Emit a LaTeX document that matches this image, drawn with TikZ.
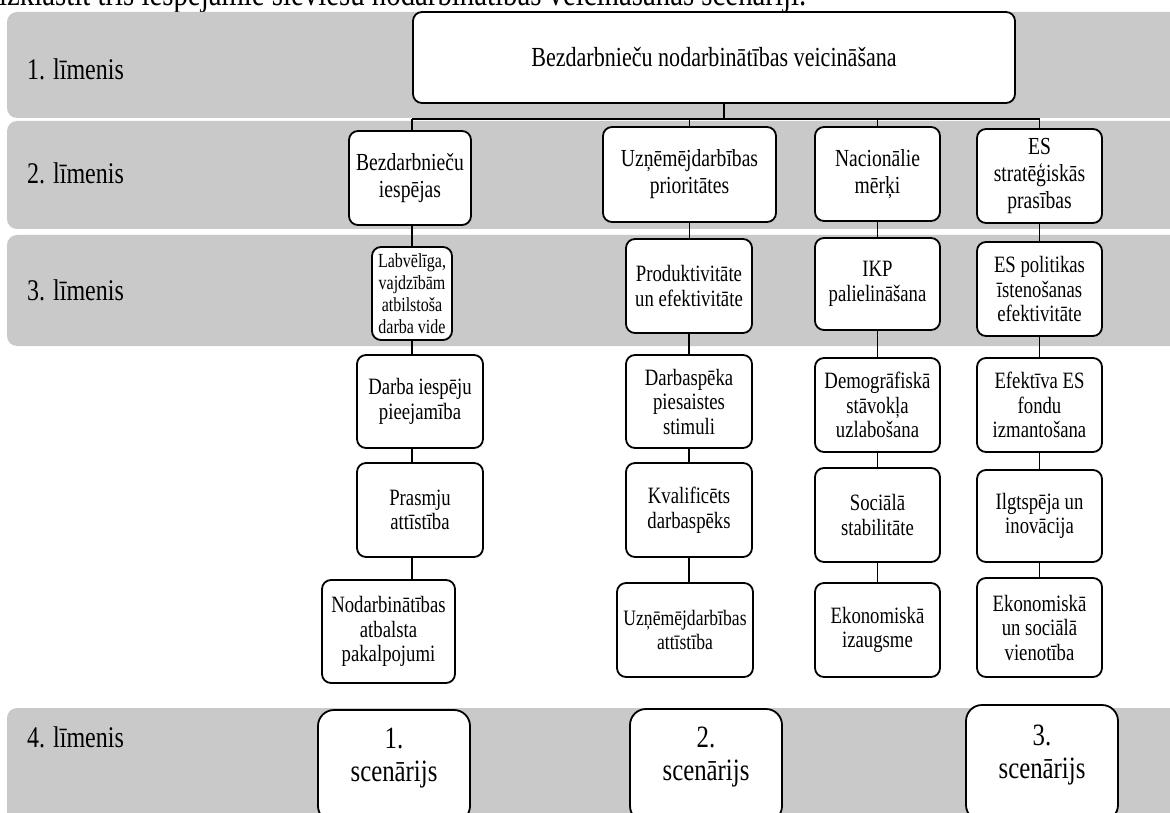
\documentclass[tikz,border=0pt]{standalone}
\usepackage{fontspec}
\setmainfont{Liberation Serif}[FakeStretch=0.8]
\definecolor{bandgray}{RGB}{201,201,201}
\begin{document}
\begin{tikzpicture}[x=1pt,y=-1pt]
\tikzset{
  band/.style={fill=bandgray, draw=none, rounded corners=10pt},
  box/.style={draw, line width=1.8pt, fill=white, rounded corners=9pt, align=center, inner sep=0.5pt},
  ltwo/.style={box, font=\fontsize{24.5}{27}\selectfont},
  lthree/.style={box, font=\fontsize{23.4}{24.5}\selectfont},
  lsmall/.style={box, font=\fontsize{20}{22}\selectfont},
  scen/.style={draw, line width=1.8pt, fill=white, rounded corners=16pt},
  scentext/.style={align=center, font=\fontsize{31}{33}\selectfont, inner sep=0pt},
  conn/.style={line width=1.9pt},
  lvl/.style={anchor=west, font=\fontsize{30}{32}\selectfont, inner sep=0pt},
}
\useasboundingbox (0,0) rectangle (1170,813);
\fill[white] (0,0) rectangle (1170,813);
% intro line (clipped at top, as in the reference)
\node[anchor=base west, font=\fontsize{36}{38}\selectfont, inner sep=0pt] (intro) at (-1,6)
  {izklāstīt trīs iespējamie sieviešu nodarbinātības veicināšanas scenāriji.};
% bands
\fill[band] (7,12) rectangle (1190,118);
\fill[band] (7,121) rectangle (1190,229);
\fill[band] (7,235) rectangle (1190,346);
\fill[band] (7,708) rectangle (1190,840);
% level labels
\node[lvl] (lv1) at (27,69) {1. līmenis};
\node[lvl] (lv2) at (27,173) {2. līmenis};
\node[lvl] (lv3) at (27,290) {3. līmenis};
\node[lvl] (lv4) at (27,737) {4. līmenis};
% top
\node[box, font=\fontsize{27.6}{30}\selectfont, minimum width=602pt, minimum height=91pt] (top) at (714,57.5)
  {Bezdarbnieču nodarbinātības veicināšana};
% level 2
\node[ltwo, minimum width=122pt, minimum height=94pt] (b21) at (410,178) {Bezdarbnieču\\iespējas};
\node[ltwo, minimum width=173pt, minimum height=95pt] (b22) at (689.5,174.5) {Uzņēmējdarbības\\prioritātes};
\node[ltwo, minimum width=125pt, minimum height=94pt] (b23) at (877.5,174) {Nacionālie\\mērķi};
\node[ltwo, minimum width=125pt, minimum height=94pt] (b24) at (1039.5,176) {ES\\stratēģiskās\\prasības};
% level 3
\node[lsmall, minimum width=80pt, minimum height=93pt] (b31) at (412,293.5) {Labvēlīga,\\vajdzībām\\atbilstoša\\darba vide};
\node[lthree, minimum width=126pt, minimum height=94pt] (b32) at (689,286) {Produktivitāte\\un efektivitāte};
\node[lthree, minimum width=125pt, minimum height=92pt] (b33) at (877.5,284) {IKP\\palielināšana};
\node[lthree, minimum width=125pt, minimum height=94pt] (b34) at (1039.5,289) {ES politikas\\īstenošanas\\efektivitāte};
% level 4
\node[lthree, minimum width=126pt, minimum height=93pt] (b41) at (420,401.5) {Darba iespēju\\pieejamība};
\node[lthree, minimum width=126pt, minimum height=93pt] (b42) at (689,401.5) {Darbaspēka\\piesaistes\\stimuli};
\node[lthree, minimum width=125pt, minimum height=94pt] (b43) at (877.5,405) {Demogrāfiskā\\stāvokļa\\uzlabošana};
\node[lthree, minimum width=125pt, minimum height=94pt] (b44) at (1039.5,405) {Efektīva ES\\fondu\\izmantošana};
% level 5
\node[lthree, minimum width=126pt, minimum height=94pt] (b51) at (420,510) {Prasmju\\attīstība};
\node[lthree, minimum width=126pt, minimum height=94pt] (b52) at (689,510) {Kvalificēts\\darbaspēks};
\node[lthree, minimum width=125pt, minimum height=94pt] (b53) at (877.5,515) {Sociālā\\stabilitāte};
\node[lthree, minimum width=125pt, minimum height=92pt] (b54) at (1039.5,516) {Ilgtspēja un\\inovācija};
% level 6
\node[lthree, minimum width=133pt, minimum height=103pt] (b61) at (388.5,631.5) {Nodarbinātības\\atbalsta\\pakalpojumi};
\node[lthree, font=\fontsize{22}{24.5}\selectfont, minimum width=136pt, minimum height=94pt] (b62) at (685,630) {Uzņēmējdarbības\\attīstība};
\node[lthree, minimum width=125pt, minimum height=94pt] (b63) at (877.5,630) {Ekonomiskā\\izaugsme};
\node[lthree, minimum width=125pt, minimum height=99pt] (b64) at (1039.5,627.5) {Ekonomiskā\\un sociālā\\vienotība};
% scenarios
\node[scen, minimum width=152pt, minimum height=112pt] (s1) at (394,766) {};
\node[scen, minimum width=152pt, minimum height=113pt] (s2) at (706,765.5) {};
\node[scen, minimum width=152pt, minimum height=116pt] (s3) at (1042,763) {};
\node[scentext] (s1t) at (394,758) {1.\\scenārijs};
\node[scentext] (s2t) at (706,757) {2.\\scenārijs};
\node[scentext] (s3t) at (1042,755) {3.\\scenārijs};
% connectors
\coordinate (busL) at (412,119);
\coordinate (busR) at (1039.5,119);
\coordinate (j1) at (724,119);
\coordinate (j2) at (689.5,119);
\coordinate (j3) at (877.5,119);
\coordinate (c1) at (412,0);
\draw[conn] (top.south -| j1) -- (j1);
\draw[conn] (busL) -- (busR);
\draw[conn] (busL) -- (b21.north -| busL);
% column 1 (straight line through the column)
\draw[conn] (b21.south -| c1) -- (b31.north -| c1);
\draw[conn] (b31.south -| c1) -- (b41.north -| c1);
\draw[conn] (b41.south -| c1) -- (b51.north -| c1);
\draw[conn] (b51.south -| c1) -- (b61.north -| c1);
\draw[conn] (j2) -- (b22.north);
\draw[conn] (j3) -- (b23.north);
\draw[conn] (busR) -- (b24.north);
\foreach \c in {2,3,4}{
  \draw[conn] (b2\c.south) -- (b2\c.south |- b3\c.north);
  \draw[conn] (b3\c.south) -- (b3\c.south |- b4\c.north);
  \draw[conn] (b4\c.south) -- (b4\c.south |- b5\c.north);
  \draw[conn] (b5\c.south) -- (b5\c.south |- b6\c.north);
}
\end{tikzpicture}
\end{document}
